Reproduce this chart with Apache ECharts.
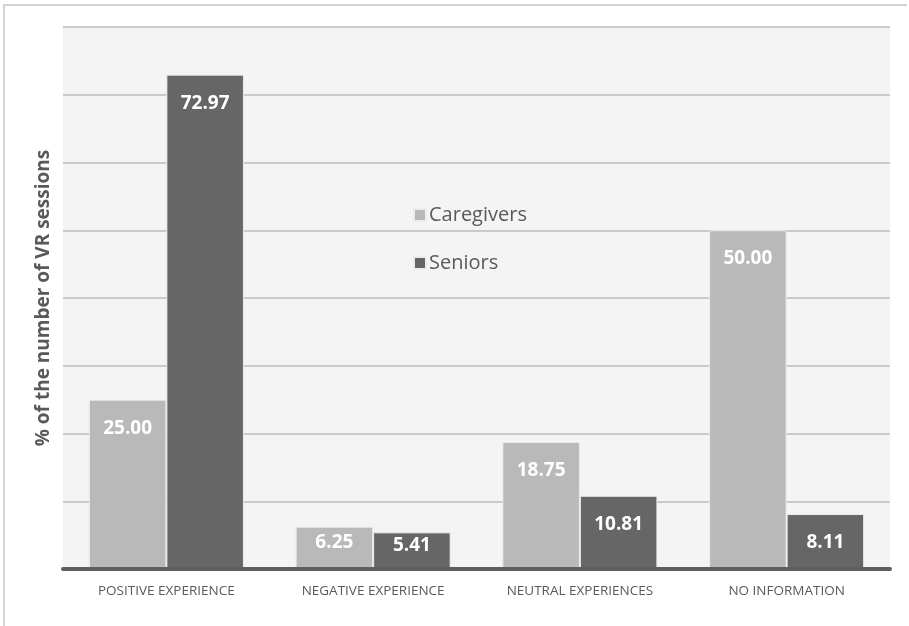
<!DOCTYPE html>
<html>
<head>
<meta charset="utf-8">
<script src="https://cdn.jsdelivr.net/npm/echarts@6/dist/echarts.min.js"></script>
<style>
  html, body { margin: 0; padding: 0; background: #ffffff; }
  #chart { width: 909px; height: 626px; }
</style>
</head>
<body>
<div id="chart"></div>
<script>
// Share of VR sessions per experience type, by participant group
const categories = ['POSITIVE EXPERIENCE', 'NEGATIVE EXPERIENCE', 'NEUTRAL EXPERIENCES', 'NO INFORMATION'];
const caregivers = [25.00, 6.25, 18.75, 50.00];
const seniors = [72.97, 5.41, 10.81, 8.11];
const seriesNames = ['Caregivers', 'Seniors'];
const axisTitle = '% of the number of VR sessions';

const FONT = '"Open Sans", "Noto Sans", sans-serif';

// Short bars cannot hold the label below their top edge, so centre it instead
function barData(values) {
  return values.map(v => (v < 7
    ? { value: v, label: { position: 'inside', offset: [0, -5] } }
    : v));
}

const labelStyle = {
  show: true,
  position: 'insideTop',
  distance: 19,
  color: '#ffffff',
  fontFamily: FONT,
  fontWeight: 'bold',
  fontSize: 19,
  formatter: p => p.value.toFixed(2)
};

const chart = echarts.init(document.getElementById('chart'), null, { renderer: 'canvas' });

chart.setOption({
  backgroundColor: '#ffffff',
  animation: false,
  graphic: [{
    type: 'polyline',
    shape: { points: [[4, 700], [4, 5], [907, 5]] },
    style: { stroke: '#d4d4d4', lineWidth: 2, fill: null },
    silent: true
  }],
  grid: {
    left: 63, right: 19, top: 27, bottom: 57,
    show: true, backgroundColor: '#f4f4f4', borderWidth: 0,
    containLabel: false
  },
  legend: {
    orient: 'vertical',
    left: 408,
    top: 200,
    itemGap: 28,
    itemWidth: 12,
    itemHeight: 12,
    icon: 'rect',
    textStyle: { fontFamily: FONT, fontSize: 20, color: '#595959', padding: [0, 0, 0, -2] },
    data: seriesNames
  },
  xAxis: {
    type: 'category',
    data: categories,
    axisLine: { show: true, lineStyle: { color: '#5f5f5f', width: 4 } },
    axisTick: { show: false },
    axisLabel: { margin: 15, fontFamily: FONT, fontSize: 13.5, color: '#595959', interval: 0 },
    z: 10
  },
  yAxis: {
    type: 'value',
    min: 0, max: 80, interval: 10,
    axisLabel: { show: false },
    axisLine: { show: false },
    axisTick: { show: false },
    splitLine: { show: true, lineStyle: { color: '#cacaca', width: 2 } },
    name: axisTitle,
    nameLocation: 'middle',
    nameGap: 10,
    nameTextStyle: { fontFamily: FONT, fontWeight: 'bold', fontSize: 19, color: '#595959' }
  },
  series: [
    {
      name: seriesNames[0],
      type: 'bar',
      data: barData(caregivers),
      barGap: '0%',
      barCategoryGap: '25%',
      itemStyle: { color: '#b9b9b9', borderColor: '#ececec', borderWidth: 1 },
      label: labelStyle
    },
    {
      name: seriesNames[1],
      type: 'bar',
      data: barData(seniors),
      barGap: '0%',
      barCategoryGap: '25%',
      itemStyle: { color: '#666666', borderColor: '#ececec', borderWidth: 1 },
      label: labelStyle
    }
  ]
});
</script>
</body>
</html>
